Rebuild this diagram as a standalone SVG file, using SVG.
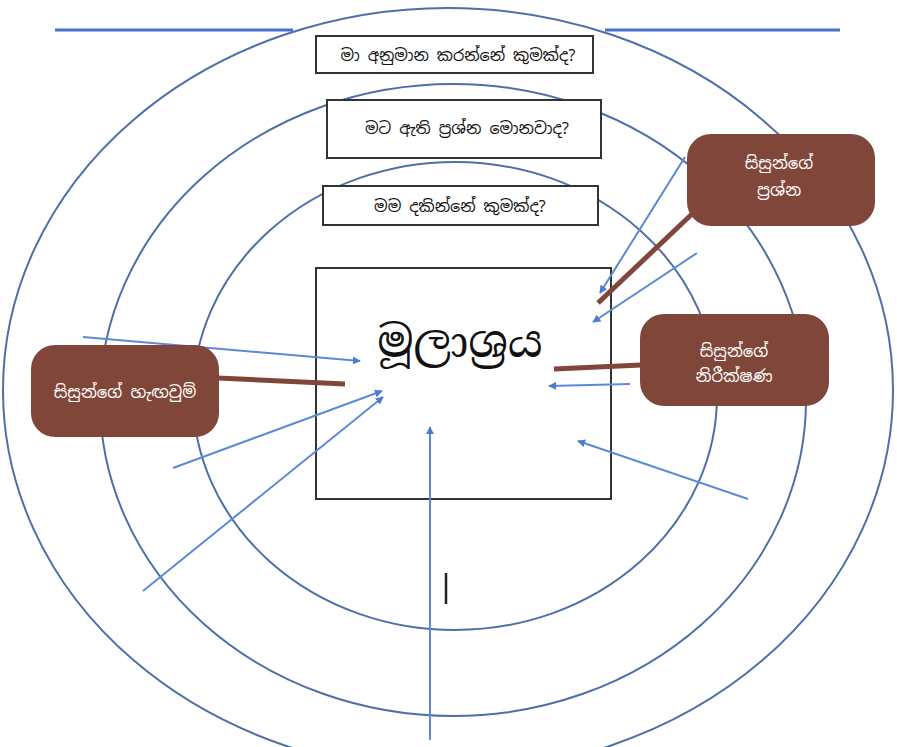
<svg xmlns="http://www.w3.org/2000/svg" width="897" height="747" viewBox="0 0 897 747">
<defs>
<style>
.ring{fill:none;stroke:#4F6FA8;stroke-width:2}
.hl{fill:none;stroke:#4472C4;stroke-width:3}
.arr{fill:none;stroke:#5B8AD6;stroke-width:2;marker-end:url(#ah)}
.br{fill:none;stroke:#7F4639;stroke-width:5}
.qbox{fill:#fff;stroke:#333;stroke-width:2}
.bbox{fill:#7F4639;stroke:none}
.qt{font-family:"Noto Sans Sinhala","Noto Sans","DejaVu Sans",sans-serif;font-size:16px;fill:#111;text-anchor:middle}
.wt{font-family:"Noto Sans Sinhala","Noto Sans","DejaVu Sans",sans-serif;font-size:16.5px;fill:#fff;text-anchor:middle}
.mt{font-family:"Noto Serif Sinhala","Noto Sans Sinhala","Noto Sans",serif;font-size:44px;fill:#111;text-anchor:middle}
</style>
<marker id="ah" viewBox="0 0 10 10" refX="9" refY="5" markerWidth="8" markerHeight="8" orient="auto" markerUnits="userSpaceOnUse">
<path d="M0,0 L10,5 L0,10 z" fill="#4A7BD0"/>
</marker>
</defs>
<rect width="897" height="747" fill="#fff"/>
<g id="rings">
<line class="hl" x1="55" y1="30" x2="293" y2="30"/>
<line class="hl" x1="605" y1="30" x2="840" y2="30"/>
<ellipse class="ring" cx="448" cy="390" rx="445" ry="382"/>
<ellipse class="ring" cx="453" cy="400" rx="353" ry="316"/>
<ellipse class="ring" cx="455" cy="396" rx="262" ry="234"/>
</g>
<g id="q1"><rect class="qbox" x="316" y="36" width="277" height="37"/><text class="qt" x="458" y="61">මා අනුමාන කරන්නේ කුමක්ද?</text></g>
<g id="q2"><rect class="qbox" x="327" y="100" width="274" height="58"/><text class="qt" x="467" y="134">මට ඇති ප්‍රශ්න මොනවාද?</text></g>
<g id="q3"><rect class="qbox" x="323" y="186" width="275" height="39"/><text class="qt" x="460" y="212">මම දකින්නේ කුමක්ද?</text></g>
<g id="source"><rect class="qbox" x="316" y="268" width="295" height="231"/><text class="mt" x="460" y="357">මූලාශ්‍රය</text></g>
<g id="connectors">
<line class="arr" x1="685" y1="157" x2="600" y2="293"/>
<line class="arr" x1="697" y1="253" x2="593" y2="322"/>
<line class="arr" x1="630" y1="384" x2="549" y2="386"/>
<line class="arr" x1="748" y1="499" x2="578" y2="441"/>
<line class="arr" x1="430" y1="740" x2="430" y2="427"/>
<line class="arr" x1="83" y1="337" x2="360" y2="361"/>
<line class="arr" x1="173" y1="468" x2="382" y2="391"/>
<line class="arr" x1="143" y1="591" x2="383" y2="397"/>
<line class="br" x1="692" y1="214" x2="598" y2="303"/>
<line class="br" x1="641" y1="365" x2="554" y2="369"/>
<line class="br" x1="218" y1="378" x2="345" y2="384"/>
</g>
<g id="studentQuestions"><rect class="bbox" x="687" y="134" width="188" height="92" rx="24"/><text class="wt" x="779" y="169">සිසුන්ගේ</text><text class="wt" x="779" y="196">ප්‍රශ්න</text></g>
<g id="studentObservations"><rect class="bbox" x="640" y="314" width="189" height="92" rx="24"/><text class="wt" x="734" y="357">සිසුන්ගේ</text><text class="wt" x="734" y="382">නිරීක්ෂණ</text></g>
<g id="studentInferences"><rect class="bbox" x="31" y="345" width="188" height="92" rx="24"/><text class="wt" x="125" y="398">සිසුන්ගේ හැඟවුම්</text></g>
<line x1="446" y1="573" x2="446" y2="604" stroke="#222" stroke-width="2.5"/>
</svg>
